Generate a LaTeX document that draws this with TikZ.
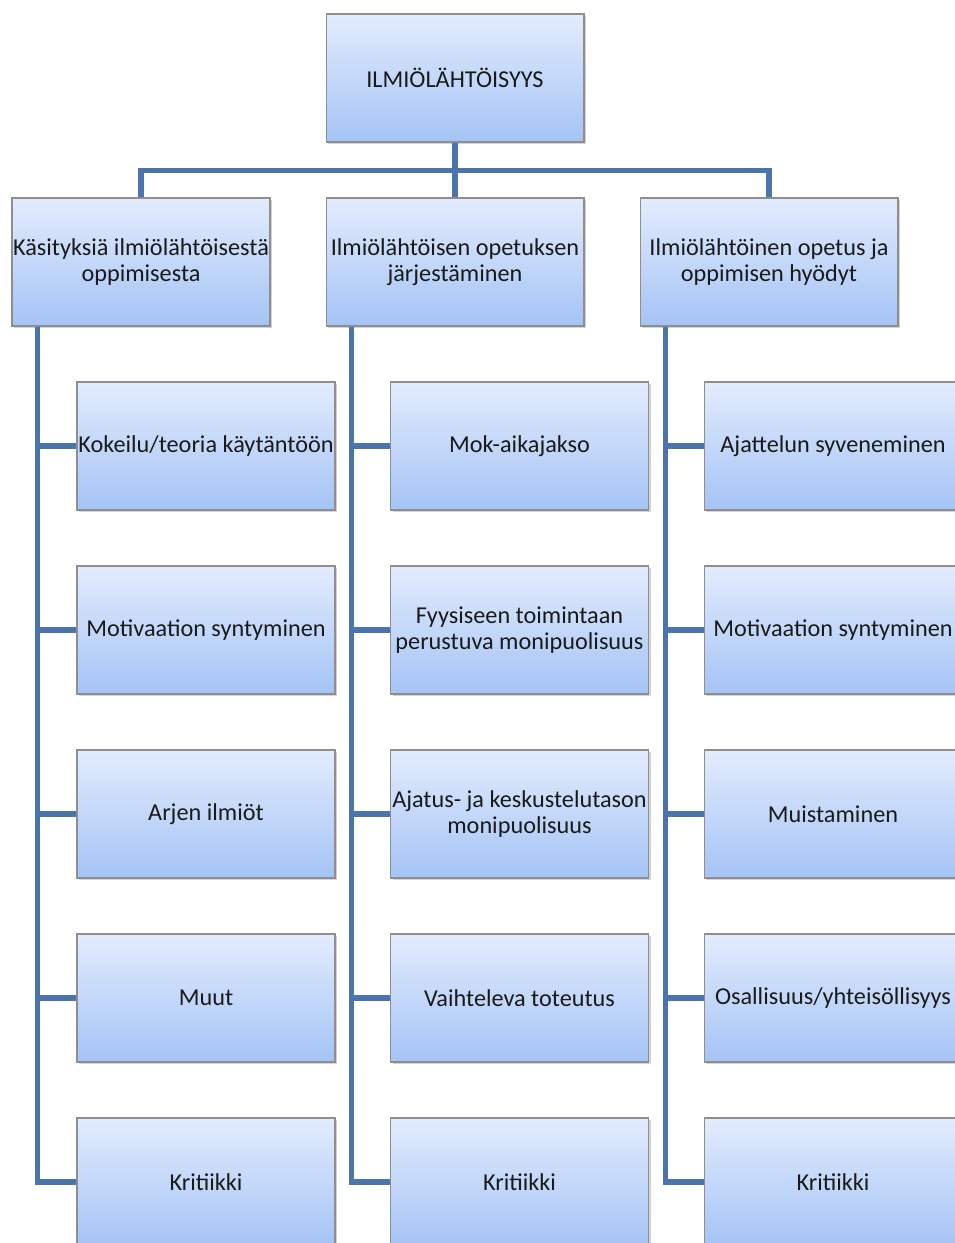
\documentclass[tikz,border=0pt]{standalone}
\usepackage{fontspec}
\setmainfont{Carlito}
\usepackage{tikz}
\usetikzlibrary{positioning,shadows}
\definecolor{boxtop}{HTML}{E3ECFD}
\definecolor{boxbottom}{HTML}{A4C3F5}
\definecolor{boxborder}{HTML}{8E8E8E}
\definecolor{linkblue}{HTML}{4A74AB}
\definecolor{labeltext}{HTML}{1A1A1A}

\tikzset{
    topicbox/.style={rectangle, draw=boxborder, line width=0.6pt,
        top color=boxtop, bottom color=boxbottom,
        minimum width=5.16cm, minimum height=2.56cm, inner sep=0pt,
        align=center, text=labeltext,
        font=\fontsize{13.8}{14.7}\selectfont,
        drop shadow={shadow xshift=1.2pt, shadow yshift=-1.2pt, opacity=0.35}},
    link/.style={linkblue, line width=2.9pt, line join=miter}
}

\begin{document}
\begin{tikzpicture}[x=0.02cm, y=-0.02cm]
    \clip (0,0) rectangle (955,1243);

    % Main topic
    \node[topicbox] (top) at (455,78) {ILMIÖLÄHTÖISYYS};

    % Second level
    \node[topicbox] (b1) at (141,262) {Käsityksiä ilmiölähtöisestä\\oppimisesta};
    \node[topicbox] (b2) at (455,262) {Ilmiölähtöisen opetuksen\\järjestäminen};
    \node[topicbox] (b3) at (769,262) {Ilmiölähtöinen opetus ja\\oppimisen hyödyt};

    % Links from main topic
    \draw[link] (top.south) -- ++(0,28) coordinate (bar) -| (b1.north);
    \draw[link] (bar) -| (b3.north);
    \draw[link] (bar) -- (b2.north);

    % Leaves of each column
    \foreach \txt [count=\i] in {Kokeilu/teoria käytäntöön, Motivaation syntyminen,
            Arjen ilmiöt, Muut, Kritiikki} {
        \node[topicbox] (a\i) at (206,{446+184*(\i-1)}) {\txt};
        \draw[link] ([xshift=0.52cm]b1.south west) |- (a\i.west);
    }
    \foreach \txt [count=\i] in {Mok-aikajakso, {Fyysiseen toimintaan\\perustuva monipuolisuus},
            {Ajatus- ja keskustelutason\\monipuolisuus}, Vaihteleva toteutus, Kritiikki} {
        \node[topicbox] (m\i) at (519.5,{446+184*(\i-1)}) {\txt};
        \draw[link] ([xshift=0.52cm]b2.south west) |- (m\i.west);
    }
    \foreach \txt [count=\i] in {Ajattelun syveneminen, Motivaation syntyminen,
            Muistaminen, Osallisuus/yhteisöllisyys, Kritiikki} {
        \node[topicbox] (r\i) at (833,{446+184*(\i-1)}) {\txt};
        \draw[link] ([xshift=0.52cm]b3.south west) |- (r\i.west);
    }
\end{tikzpicture}
\end{document}
